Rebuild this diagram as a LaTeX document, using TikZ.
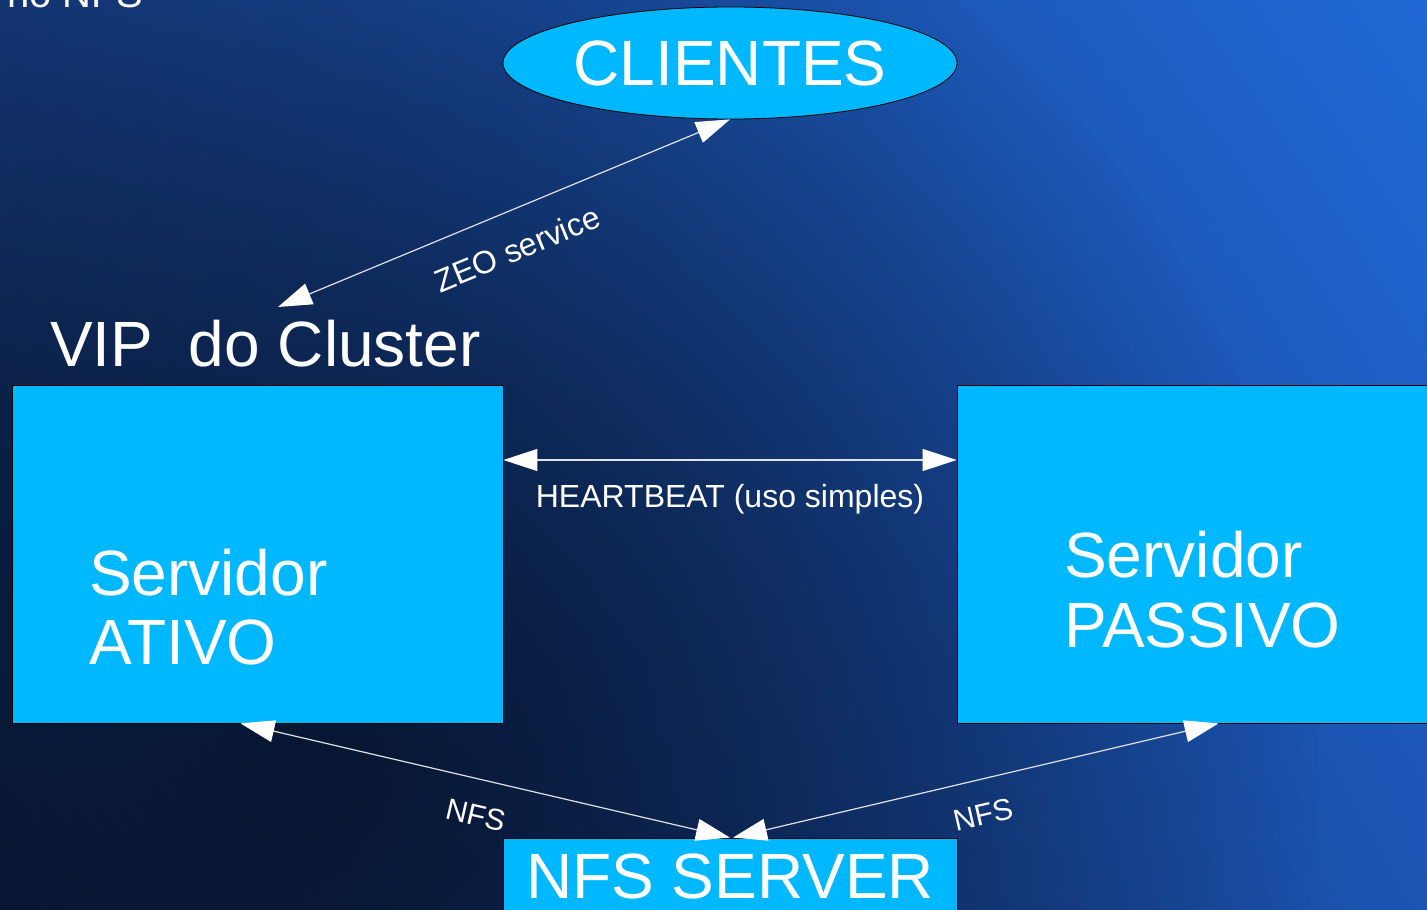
\documentclass[tikz,border=0pt]{standalone}
\usepackage{fontspec}
\setmainfont{Liberation Sans}
\usetikzlibrary{arrows.meta,shapes.geometric,fadings,shadings}
\definecolor{cyanbox}{RGB}{0,184,255}
\definecolor{bgUL}{RGB}{22,60,128}
\definecolor{bgUR}{RGB}{32,104,214}
\definecolor{bgLL}{RGB}{10,28,62}
\definecolor{bgLR}{RGB}{28,85,180}
\definecolor{bgdark}{RGB}{6,18,42}
\definecolor{linecol}{RGB}{225,225,230}
\newcommand{\fs}[1]{\fontsize{#1}{#1}\selectfont}
\tikzfading[name=darkspot, inner color=transparent!0, outer color=transparent!100]
\begin{document}
\begin{tikzpicture}[x=1pt,y=-1pt,
  box/.style={draw=black, line width=0.8pt, fill=cyanbox, rectangle, inner sep=0pt},
  big/.style={text=white, font=\fs{64}, inner sep=0pt},
  small/.style={text=white, font=\fs{32}, inner sep=0pt},
  tiny/.style={text=white, font=\fs{30}, inner sep=0pt},
  conn/.style={draw=linecol, line width=1.2pt,
    {Triangle[length=34pt,width=22pt,fill=white,color=white]}-{Triangle[length=34pt,width=22pt,fill=white,color=white]}}
]
\useasboundingbox (0,0) rectangle (1427,910);
\shade[upper left=bgUL, upper right=bgUR, lower left=bgLL, lower right=bgLR] (0,0) rectangle (1427,910);
\fill[bgdark, path fading=darkspot, fill opacity=0.85] (330,760) circle (1000);

% partially visible title
\node[text=white, font=\fs{40}, inner sep=0pt, anchor=base east] (title) at (143,7) {no NFS};

% clients
\node[ellipse, draw=black, line width=0.8pt, fill=cyanbox, minimum width=454pt, minimum height=112pt, inner sep=0pt] (clients) at (730,63) {};
\node[big] (clientstxt) at (730,63) {CLIENTES};

% VIP label
\node[big, anchor=base west] (vip) at (50,366) {VIP\ \ do Cluster};
\coordinate (viptip) at (278,307);

% servers
\node[box, minimum width=491pt, minimum height=338pt] (ativo) at (257.5,554) {};
\node[big, anchor=base west] (ativo1) at (89,595) {Servidor};
\node[big, anchor=base west] (ativo2) at (89,664) {ATIVO};

\node[box, minimum width=523pt, minimum height=338pt] (passivo) at (1218.5,554) {};
\node[big, anchor=base west] (passivo1) at (1064,577) {Servidor};
\node[big, anchor=base west] (passivo2) at (1064,647) {PASSIVO};

% NFS server
\node[box, minimum width=454pt, minimum height=76pt] (nfs) at (730,876) {};
\node[big, anchor=base] (nfstxt) at (730,898) {NFS SERVER};

% connectors
\draw[conn] (viptip) -- (clients.south);
\node[small, rotate=22.5] (zeo) at (517,249) {ZEO service};

\coordinate (hb) at (0,460);
\draw[conn] (ativo.east |- hb) -- (passivo.west |- hb);
\node[small, anchor=base] (hbtxt) at (730,507) {HEARTBEAT (uso simples)};

\draw[conn] ([xshift=-17pt]ativo.south) -- (nfs.north);
\draw[conn] (passivo.south) -- ([xshift=3pt]nfs.north);
\node[tiny, rotate=-13] (nfsl) at (476,815) {NFS};
\node[tiny, rotate=13] (nfsr) at (983,815) {NFS};
\end{tikzpicture}
\end{document}
